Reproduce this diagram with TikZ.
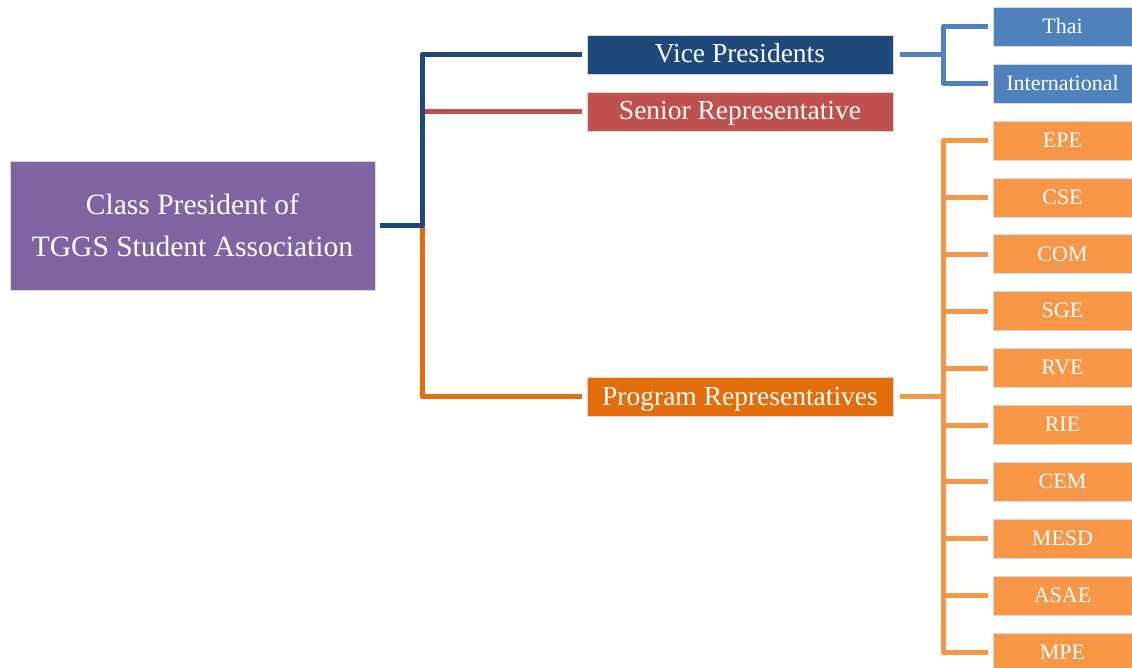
\documentclass[tikz,border=0pt]{standalone}
\usepackage{fontspec}
\setmainfont{Liberation Serif}
\definecolor{cpurple}{HTML}{8064A2}
\definecolor{cnavy}{HTML}{1F497D}
\definecolor{cred}{HTML}{C0504D}
\definecolor{corange}{HTML}{E46C0A}
\definecolor{cblue}{HTML}{4F81BD}
\definecolor{clorange}{HTML}{F79646}
\begin{document}
\begin{tikzpicture}[x=1pt,y=-1pt,
  box/.style={draw=white!85!black, line width=0.6pt, inner sep=0pt, text=white, align=center},
  rootbox/.style={box, fill=cpurple, minimum width=365pt, minimum height=129pt, font=\fontsize{29.5}{42}\selectfont},
  midbox/.style={box, minimum width=306pt, minimum height=39pt, text height=17pt, text depth=0pt, font=\fontsize{27.5}{30}\selectfont},
  subbox/.style={box, minimum width=139pt, minimum height=39pt, text height=13.5pt, text depth=0pt, font=\fontsize{22}{24}\selectfont},
  conn/.style={line width=5pt, line join=round, line cap=butt}
]
\useasboundingbox (0,0) rectangle (1132,668);
\node[rootbox] (root) at (192.5,225.5) {Class President of\\TGGS Student Association};
\node[midbox, fill=cnavy] (vp) at (740,54.5) {Vice Presidents};
\node[midbox, fill=cred] (sr) at (740,111.5) {Senior Representative};
\node[midbox, fill=corange] (pr) at (740,396.5) {Program Representatives};
\node[subbox, fill=cblue] (thai) at (1062.5,26.5) {Thai};
\node[subbox, fill=cblue] (intl) at (1062.5,83.5) {International};
\foreach \n/\t [count=\i from 0] in {epe/EPE,cse/CSE,com/COM,sge/SGE,rve/RVE,rie/RIE,cem/CEM,mesd/MESD,ase/ASAE,mpe/MPE}{
  \node[subbox, fill=clorange] (\n) at (1062.5,140.5+56.9*\i) {\t};
}
% root connectors
\coordinate (trunk) at (422,0);
\draw[conn, draw=corange] (trunk |- root.east) -- (trunk |- pr.west) -- ([xshift=-5pt]pr.west);
\draw[conn, draw=cred] (trunk |- sr.west) -- ([xshift=-5pt]sr.west);
\draw[conn, draw=cnavy] ([xshift=5pt]root.east) -- (trunk |- root.east) -- (trunk |- vp.west) -- ([xshift=-5pt]vp.west);
% vice presidents
\coordinate (vbus) at (943,0);
\draw[conn, draw=cblue] ([xshift=7pt]vp.east) -- (vbus |- vp.east);
\draw[conn, draw=cblue] ([xshift=-5pt]thai.west) -- (vbus |- thai.west) -- (vbus |- intl.west) -- ([xshift=-5pt]intl.west);
% program reps
\draw[conn, draw=clorange] ([xshift=7pt]pr.east) -- (vbus |- pr.east);
\draw[conn, draw=clorange] ([xshift=-5pt]epe.west) -- (vbus |- epe.west) -- (vbus |- mpe.west) -- ([xshift=-5pt]mpe.west);
\foreach \n in {cse,com,sge,rve,rie,cem,mesd,ase}{
  \draw[conn, draw=clorange] (vbus |- \n.west) -- ([xshift=-5pt]\n.west);
}
\end{tikzpicture}
\end{document}
